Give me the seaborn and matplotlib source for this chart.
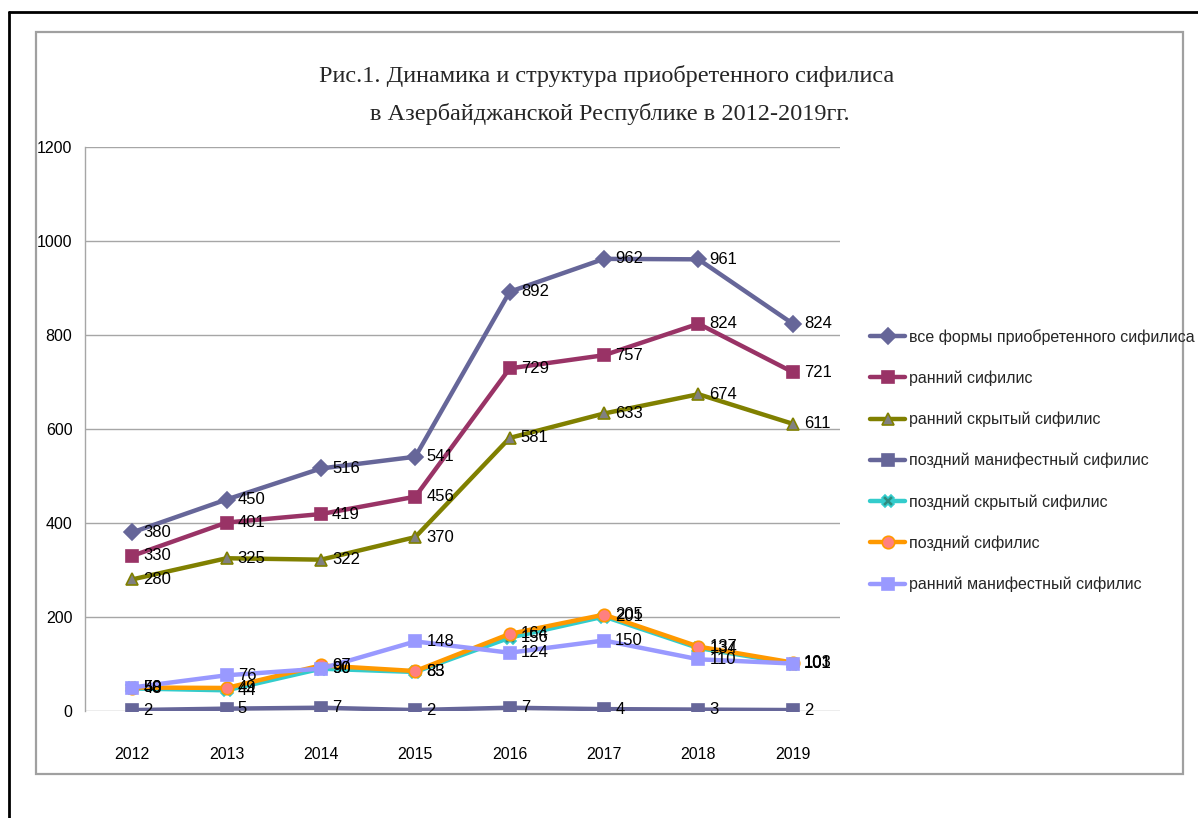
import matplotlib
matplotlib.use("Agg")
import matplotlib.pyplot as plt
from matplotlib.lines import Line2D
from matplotlib.patches import Rectangle
import pandas as pd
import seaborn as sns

years = ["2012", "2013", "2014", "2015", "2016", "2017", "2018", "2019"]

all_forms = [380, 450, 516, 541, 892, 962, 961, 824]
early = [330, 401, 419, 456, 729, 757, 824, 721]
early_latent = [280, 325, 322, 370, 581, 633, 674, 611]
late_manifest = [2, 5, 7, 2, 7, 4, 3, 2]
late_latent = [48, 44, 90, 83, 156, 201, 134, 101]
late = [50, 49, 97, 85, 164, 205, 137, 103]
early_manifest = [50, 76, 90, 148, 124, 150, 110, 101]

series_names = [
    "все формы приобретенного сифилиса",
    "ранний сифилис",
    "ранний скрытый сифилис",
    "поздний манифестный сифилис",
    "поздний скрытый сифилис",
    "поздний сифилис",
    "ранний манифестный сифилис",
]
series_values = [all_forms, early, early_latent, late_manifest,
                 late_latent, late, early_manifest]

# line colour, marker, marker face, marker edge, marker size
styles = [
    ("#666699", "D", "#666699", "#666699", 8),
    ("#993366", "s", "#993366", "#993366", 9),
    ("#808000", "^", "#808080", "#808000", 9),
    ("#666699", "s", "#666699", "#666699", 9),
    ("#33CCCC", "X", "#2E8B80", "#33CCCC", 9),
    ("#FF9900", "o", "#FF8080", "#FF9900", 9),
    ("#9999FF", "s", "#9999FF", "#9999FF", 9),
]

rows = []
for name, vals in zip(series_names, series_values):
    for y, v in zip(years, vals):
        rows.append({"year": y, "series": name, "value": v})
df = pd.DataFrame(rows)

sns.set_theme(style="white")
sans = ["Liberation Sans", "DejaVu Sans"]
plt.rcParams["font.family"] = sans
fs = 11.5

fig = plt.figure(figsize=(11.98, 8.18), dpi=100)
ax = fig.add_axes([85 / 1198, 1 - 711 / 818, 755 / 1198, 564 / 818])

for name, (lc, mk, mf, me, ms) in zip(series_names, styles):
    sub = df[df["series"] == name]
    sns.lineplot(data=sub, x="year", y="value", ax=ax, color=lc, lw=3.2,
                 marker=mk, markersize=ms, markerfacecolor=mf,
                 markeredgecolor=me, markeredgewidth=1.2, legend=False,
                 sort=False)

# value labels to the right of each point
for name, vals in zip(series_names, series_values):
    for i, v in enumerate(vals):
        ax.annotate(str(v), (i, v), xytext=(8, 0), textcoords="offset points",
                    ha="left", va="center", fontsize=12, color="black")

ax.set_xlim(-0.5, 7.5)
ax.set_ylim(0, 1200)
ax.set_yticks(range(0, 1201, 200))
ax.set_xlabel("")
ax.set_ylabel("")
ax.grid(axis="y", color="#a6a6a6", lw=1)
ax.grid(axis="x", visible=False)
for s in ["top", "right", "bottom"]:
    ax.spines[s].set_visible(False)
ax.spines["left"].set_color("#a6a6a6")
ax.spines["left"].set_linewidth(1)
ax.tick_params(axis="both", length=0, labelsize=fs, colors="black")
ax.tick_params(axis="x", pad=26)
ax.tick_params(axis="y", pad=9)

handles = [Line2D([0], [0], color=lc, lw=3.2, marker=mk, markersize=ms,
                  markerfacecolor=mf, markeredgecolor=me, markeredgewidth=1.2)
           for (lc, mk, mf, me, ms) in styles]
fig.legend(handles, series_names, loc="upper left",
           bbox_to_anchor=(870 / 1198, 1 - 329 / 818), frameon=False,
           labelspacing=1.61, handlelength=2.2,
           handletextpad=0.25, borderpad=0, borderaxespad=0,
           prop={"family": sans, "size": fs})

fig.text(607 / 1198, 1 - 76 / 818,
         "Рис.1. Динамика и структура приобретенного сифилиса",
         ha="center", va="center", fontsize=17.5, family="Liberation Serif")
fig.text(610 / 1198, 1 - 114 / 818,
         "в Азербайджанской Республике в 2012-2019гг.",
         ha="center", va="center", fontsize=17.5, family="Liberation Serif")

# chart area frame and page border
fig.patches.append(Rectangle((36 / 1198, 1 - 774 / 818), (1183 - 36) / 1198,
                             (774 - 32) / 818, transform=fig.transFigure,
                             fill=False, edgecolor="#a0a0a0", lw=1.6))
fig.lines.append(Line2D([9 / 1198, 1], [1 - 12 / 818, 1 - 12 / 818],
                        transform=fig.transFigure, color="black", lw=2))
fig.lines.append(Line2D([9 / 1198, 9 / 1198], [0, 1 - 12 / 818],
                        transform=fig.transFigure, color="black", lw=2))

fig.savefig("out.png", dpi=100, facecolor="white")
